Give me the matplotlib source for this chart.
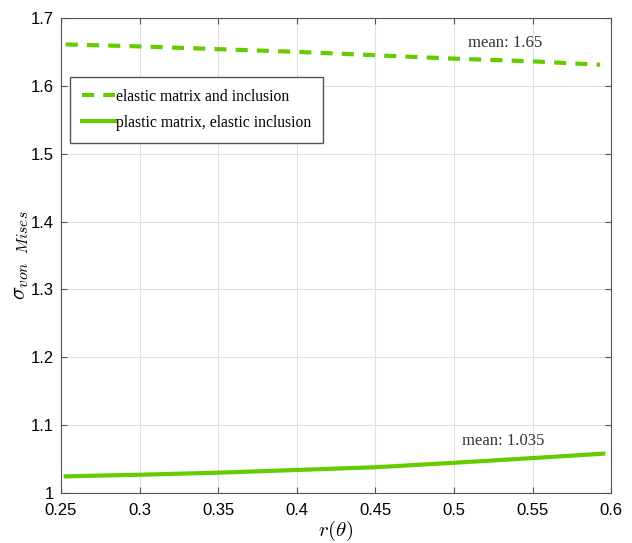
import matplotlib
matplotlib.use("Agg")
import matplotlib.pyplot as plt

r_elastic = [0.253, 0.3, 0.35, 0.4, 0.45, 0.5, 0.55, 0.593]
s_elastic = [1.661, 1.658, 1.654, 1.650, 1.645, 1.640, 1.636, 1.631]
r_plastic = [0.253, 0.3, 0.35, 0.4, 0.45, 0.5, 0.55, 0.595]
s_plastic = [1.0246, 1.027, 1.030, 1.034, 1.038, 1.0446, 1.0515, 1.058]
labels = ["elastic matrix and inclusion", "plastic matrix, elastic inclusion"]
annotations = ["mean: 1.65", "mean: 1.035"]
xticks = [0.25, 0.3, 0.35, 0.4, 0.45, 0.5, 0.55, 0.6]
yticks = [1.0, 1.1, 1.2, 1.3, 1.4, 1.5, 1.6, 1.7]

green = "#66cc00"
plt.rcParams["mathtext.fontset"] = "cm"
fig = plt.figure(figsize=(6.32, 5.43), dpi=100)
ax = fig.add_axes([0.0965, 0.092, 0.8705, 0.875])
ln, = ax.plot(r_elastic, s_elastic, color=green, lw=3, ls=(0, (2.9, 2.2)), label=labels[0])
ln.set_dash_capstyle("butt")
ax.plot(r_plastic, s_plastic, color=green, lw=3, label=labels[1])
ax.set_xlim(0.25, 0.6)
ax.set_ylim(1.0, 1.7)
ax.set_xticks(xticks)
ax.set_yticks(yticks)
ax.set_xticklabels([f"{v:g}" for v in xticks], fontfamily="Liberation Sans", fontsize=12)
ax.set_yticklabels([f"{v:g}" for v in yticks], fontfamily="Liberation Sans", fontsize=12)
ax.tick_params(direction="in", top=True, right=True, length=4, color="#555555")
ax.tick_params(axis="x", pad=7)
ax.tick_params(axis="y", pad=5)
ax.grid(True, color="#e0e0e0", lw=0.8)
for s in ax.spines.values():
    s.set_color("#555555")
ax.set_xlabel(r"$r(\theta)$", fontsize=15)
ax.xaxis.set_label_coords(0.5, -0.054)
ax.set_ylabel(r"$\sigma_{von\ \ Mises}$", fontsize=16)
ax.yaxis.set_label_coords(-0.055, 0.5)
ax.text(0.509, 1.6635, annotations[0], fontfamily="Liberation Serif", fontsize=12, color="#333333", va="center")
ax.text(0.505, 1.0766, annotations[1], fontfamily="Liberation Serif", fontsize=12, color="#333333", va="center")
leg = ax.legend(loc="upper left", bbox_to_anchor=(0.0164, 0.876), borderaxespad=0,
                prop={"family": "Liberation Serif", "size": 11.3},
                fancybox=False, edgecolor="#555555", framealpha=1, handlelength=2.1, handletextpad=0.1,
                borderpad=0.75, labelspacing=0.65)
leg.get_frame().set_linewidth(1.0)
fig.savefig("out.png", dpi=100)
